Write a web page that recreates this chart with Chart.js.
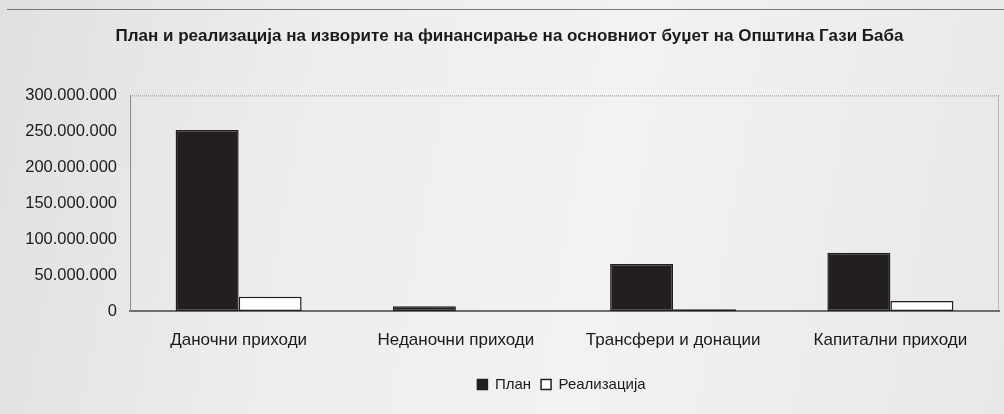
<!DOCTYPE html>
<html>
<head>
<meta charset="utf-8">
<script src="https://cdn.jsdelivr.net/npm/chart.js@4/dist/chart.umd.min.js"></script>
<style>
  html, body { margin: 0; padding: 0; }
  body {
    width: 1004px; height: 414px; overflow: hidden; position: relative;
    background: linear-gradient(100deg, #e0e0e0 0%, #ededed 30%, #f2f2f2 60%, #e8e8e8 100%);
  }
  #rule { position: absolute; left: 7px; right: 0; top: 9px; border-top: 1px solid #777; }
  #wrap { position: absolute; left: 0; top: 0; width: 1004px; height: 414px; }
</style>
</head>
<body>
<div id="rule"></div>
<div id="wrap"><canvas id="budgetChart"></canvas></div>
<script>
const categories = ["Даночни приходи", "Неданочни приходи", "Трансфери и донации", "Капитални приходи"];
const planValues = [252000000, 6500000, 65500000, 81000000];
const realValues = [20000000, 0, 2500000, 14000000];
const yTicks = [0, 50000000, 100000000, 150000000, 200000000, 250000000, 300000000];

const FONT = "'Liberation Sans', Arial, sans-serif";

// dotted frame on top and right of the plot, like the original
const framePlugin = {
  id: "frame",
  beforeDatasetsDraw(chart) {
    const a = chart.chartArea;
    const ctx = chart.ctx;
    ctx.save();
    ctx.strokeStyle = "#8a8a8a";
    ctx.lineWidth = 1;
    ctx.setLineDash([1, 1]);
    ctx.beginPath();
    ctx.moveTo(a.left, a.top + 0.5);
    ctx.lineTo(a.right, a.top + 0.5);
    ctx.moveTo(a.right - 0.5, a.top);
    ctx.lineTo(a.right - 0.5, a.bottom);
    ctx.stroke();
    ctx.restore();
  },
  afterLayout(chart) {
    // legend and title are centred a little right of the canvas centre
    chart.legend.left += 62;
    chart.legend.right += 62;
    chart.titleBlock.left += 10;
    chart.titleBlock.right += 10;
  }
};

const ctx = document.getElementById("budgetChart").getContext("2d");
const budgetChart = new Chart(ctx, {
  type: "bar",
  data: {
    labels: categories,
    datasets: [
      {
        label: "План",
        data: planValues,
        backgroundColor: "#231f20",
        borderColor: "#231f20",
        borderWidth: 1.5,
        borderSkipped: false,
      },
      {
        label: "Реализација",
        data: realValues,
        backgroundColor: "#ffffff",
        borderColor: "#231f20",
        borderWidth: 1.5,
        borderSkipped: false,
      },
    ],
  },
  options: {
    responsive: true,
    maintainAspectRatio: false,
    animation: false,
    layout: { padding: { left: 0, right: 5, top: 0, bottom: 12 } },
    datasets: { bar: { categoryPercentage: 0.58, barPercentage: 1 } },
    plugins: {
      title: {
        display: true,
        text: "План и реализација на изворите на финансирање на основниот буџет на Општина Гази Баба",
        color: "#1a1a1a",
        font: { family: FONT, size: 17, weight: "bold" },
        padding: { top: 26, bottom: 49 },
      },
      legend: {
        display: true,
        position: "bottom",
        labels: {
          color: "#1a1a1a",
          font: { family: FONT, size: 15 },
          boxWidth: 10,
          boxHeight: 10,
          padding: 10,
        },
      },
      tooltip: { enabled: false },
    },
    scales: {
      x: {
        grid: { display: false, drawTicks: false },
        border: { display: true, color: "#6e6e6e", width: 2 },
        ticks: { color: "#1a1a1a", font: { family: FONT, size: 17 }, padding: 19 },
        afterFit(scale) { scale.height = 56; },
      },
      y: {
        min: 0,
        max: 300000000,
        afterBuildTicks(scale) { scale.ticks = yTicks.map(v => ({ value: v })); },
        grid: { display: false, drawTicks: false },
        border: { display: true, color: "#8a8a8a", width: 1, dash: [1, 1] },
        ticks: {
          color: "#1a1a1a",
          font: { family: FONT, size: 16.5 },
          padding: 13,
          callback: v => String(v).replace(/\B(?=(\d{3})+(?!\d))/g, "."),
        },
        afterFit(scale) { scale.width = 130; },
      },
    },
  },
  plugins: [framePlugin],
});
</script>
</body>
</html>
